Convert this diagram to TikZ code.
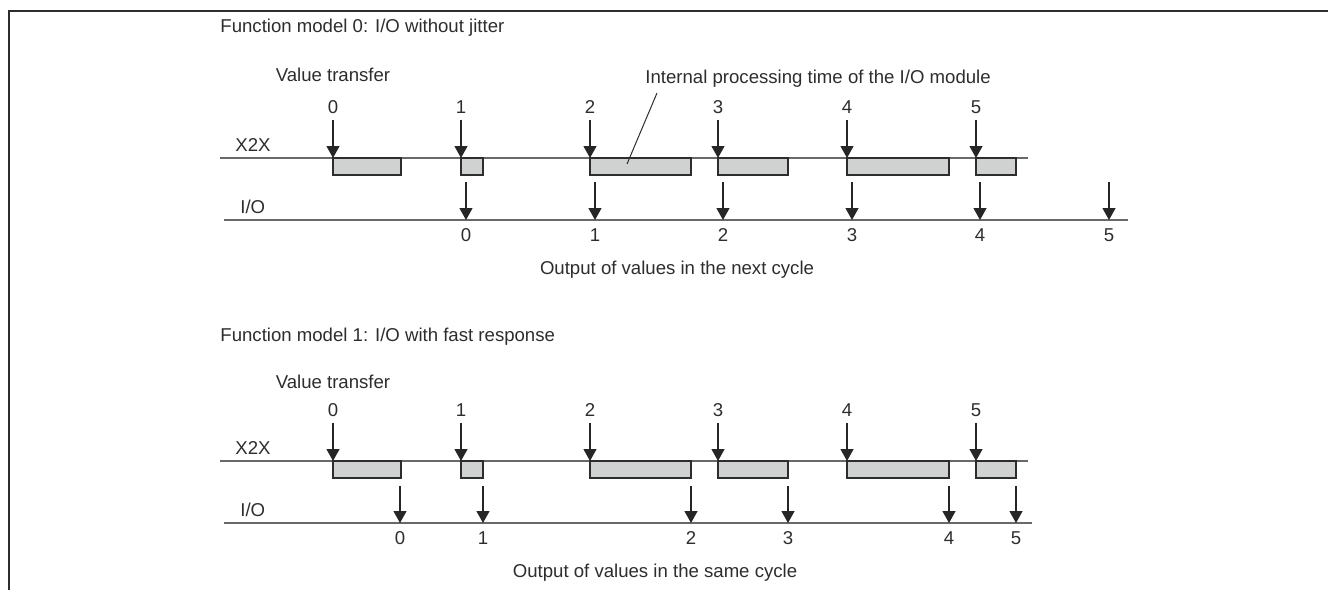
\documentclass[tikz,border=0pt]{standalone}
\usepackage{fontspec}
\setmainfont{Liberation Sans}
\usetikzlibrary{arrows.meta}

\definecolor{txtgray}{RGB}{45,45,45}
\definecolor{boxfill}{RGB}{208,210,210}
\definecolor{linegray}{RGB}{105,105,105}

\tikzset{
  lbl/.style={font=\fontsize{9.3}{11}\selectfont, text=txtgray, inner sep=0pt},
  cycbox/.style={draw=txtgray, fill=boxfill, line width=0.75pt},
  busline/.style={draw=linegray, line width=0.6pt},
  transfer/.style={draw=black!85, line width=0.6pt,
    -{Triangle[width=6.5pt,length=6pt]}},
}

\begin{document}
\begin{tikzpicture}[x=0.5pt,y=-0.5pt]
  \useasboundingbox (0,0) rectangle (1328,590);
  % frame
  \draw[txtgray, line width=1pt] (9,590) -- (9,11) -- (1328,11);

  % ---- function model 0 ----
  \node[lbl, anchor=west] (title-a) at (220,28) {Function model 0: I/O without jitter};
  \node[lbl] (vt-a) at (333,75) {Value transfer};
  \node[lbl, anchor=west] (x2x-a) at (235,145) {X2X};
  \node[lbl, anchor=west] (io-a) at (240,207) {I/O};
  \draw[busline] (220,158) -- (1028,158);
  \draw[busline] (224,220) -- (1128,220);
  \foreach \i/\xs/\xe in {0/333/401,1/461/483,2/590/691,3/718/788,4/847/949,5/976/1016} {
    \node[lbl] (in-a-\i) at (\xs,107) {\i};
    \coordinate (xa-\i) at (\xs,158);
    \draw[cycbox] (\xs,158) rectangle (\xe,175);
    \draw[transfer, shorten <=3pt] (in-a-\i.south) -- (xa-\i);
  }
  \foreach \i/\xo in {0/466,1/595,2/723,3/852,4/980,5/1109} {
    \coordinate (oa-\i) at (\xo,182);
    \coordinate (ia-\i) at (\xo,220);
    \node[lbl] (out-a-\i) at (\xo,235) {\i};
    \draw[transfer] (oa-\i) -- (ia-\i);
  }
  % callout for processing time
  \node[lbl, anchor=west] (proc) at (645,79) {Internal processing time of the I/O module};
  \coordinate (proc-in) at (627,164);
  \coordinate (proc-out) at (657,93);
  \draw[txtgray, line width=0.5pt] (proc-in) -- (proc-out);
  \node[lbl] (next) at (677,270) {Output of values in the next cycle};

  % ---- function model 1 ----
  \node[lbl, anchor=west] (title-b) at (220,337) {Function model 1: I/O with fast response};
  \node[lbl] (vt-b) at (333,382) {Value transfer};
  \node[lbl, anchor=west] (x2x-b) at (235,448) {X2X};
  \node[lbl, anchor=west] (io-b) at (240,510) {I/O};
  \draw[busline] (220,461) -- (1028,461);
  \draw[busline] (224,523) -- (1032,523);
  \foreach \i/\xs/\xe in {0/333/401,1/461/483,2/590/691,3/718/788,4/847/949,5/976/1016} {
    \node[lbl] (in-b-\i) at (\xs,410) {\i};
    \coordinate (xb-\i) at (\xs,461);
    \draw[cycbox] (\xs,461) rectangle (\xe,478);
    \draw[transfer, shorten <=3pt] (in-b-\i.south) -- (xb-\i);
  }
  \foreach \i/\xo in {0/400,1/483,2/691,3/788,4/949,5/1016} {
    \coordinate (ob-\i) at (\xo,486);
    \coordinate (ib-\i) at (\xo,523);
    \node[lbl] (out-b-\i) at (\xo,538) {\i};
    \draw[transfer] (ob-\i) -- (ib-\i);
  }
  \node[lbl] (same) at (655,573) {Output of values in the same cycle};
\end{tikzpicture}
\end{document}
